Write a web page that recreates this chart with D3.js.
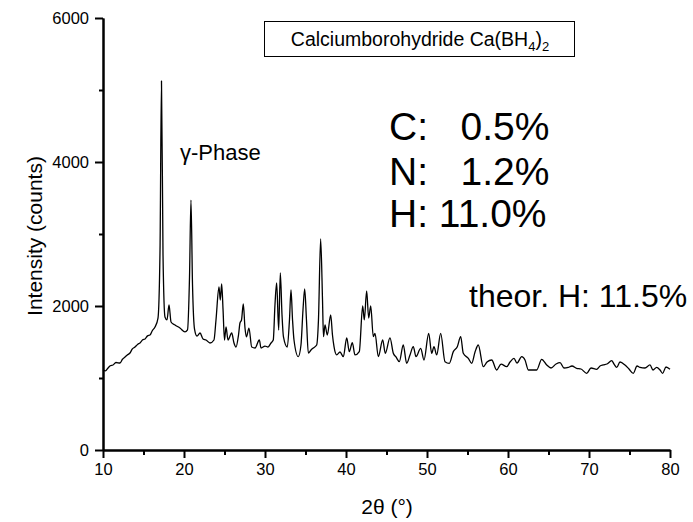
<!DOCTYPE html>
<html><head><meta charset="utf-8">
<script src="https://cdn.jsdelivr.net/npm/d3@7"></script>
<style>
body{margin:0;background:#fff;}
svg{display:block;font-family:Arial,"Liberation Sans",sans-serif;}
</style></head>
<body><svg id="c" width="693" height="522"></svg>
<script>
// 2θ positions (degrees)
const twoTheta = [10.0,10.3,10.62,10.9,11.23,11.6,12.1,12.4,12.72,13.0,13.33,13.6,13.95,14.3,14.57,14.9,15.19,15.5,15.8,16.1,16.42,16.79,17.04,17.22,17.41,17.65,17.9,18.15,18.4,18.89,19.5,20.12,20.43,20.68,20.86,21.05,21.3,21.6,21.98,22.35,22.72,23.21,23.7,23.95,24.32,24.48,24.65,24.82,25.0,25.19,25.43,25.89,26.17,26.42,26.73,26.91,27.1,27.32,27.53,27.71,28.02,28.36,28.77,29.3,29.51,30.0,30.37,30.74,31.02,31.23,31.44,31.69,31.89,32.1,32.28,32.75,33.02,33.21,33.4,33.58,34.11,34.44,34.69,34.9,35.12,35.35,35.68,35.96,36.38,36.6,36.87,37.1,37.22,37.41,37.69,38.11,38.33,38.52,38.85,39.26,39.67,40.09,40.41,40.78,41.11,41.64,42.06,42.26,42.55,42.8,43.05,43.37,43.58,43.99,44.53,44.85,45.43,45.84,46.17,46.58,47.07,47.49,47.9,48.31,48.64,49.22,49.63,50.21,50.58,50.86,51.2,51.69,52.22,52.75,53.25,53.74,54.16,54.48,55.1,55.52,55.93,56.33,56.95,57.41,57.99,58.6,59.14,59.84,60.25,60.74,61.11,61.69,62.1,62.51,62.96,63.54,64.16,64.78,65.31,65.93,66.42,66.91,67.44,67.9,68.48,69.01,69.72,70.25,70.95,71.36,71.77,72.22,72.8,73.09,73.42,73.83,74.44,74.94,75.47,75.93,76.3,76.91,77.53,77.9,78.35,78.77,79.09,79.5,80.0];
// intensity (counts)
const intensity = [1111,1100,1139,1170,1180,1215,1208,1260,1292,1320,1347,1400,1430,1470,1486,1530,1542,1585,1597,1660,1708,1833,2780,5125,2700,1847,1806,2014,1778,1736,1694,1640,1667,2400,3470,2300,1680,1583,1625,1542,1528,1486,1528,1806,2264,2083,2306,1950,1528,1708,1528,1625,1486,1430,1597,1764,1806,2028,1694,1570,1694,1430,1417,1528,1417,1444,1430,1486,1528,2014,2320,1667,2458,1875,1570,1430,1806,2222,1806,1528,1296,1458,1945,2236,1806,1347,1389,1417,1458,1806,2931,2083,1574,1736,1597,1875,1597,1435,1320,1361,1296,1556,1366,1491,1320,1366,2000,1806,2208,1833,2000,1574,1620,1296,1528,1343,1556,1343,1292,1227,1458,1204,1320,1435,1296,1412,1250,1620,1343,1435,1320,1620,1227,1204,1366,1435,1574,1343,1273,1204,1361,1458,1157,1222,1250,1111,1194,1157,1222,1273,1208,1296,1250,1111,1111,1111,1259,1181,1139,1194,1213,1139,1148,1167,1134,1125,1065,1139,1120,1167,1181,1194,1240,1194,1148,1222,1181,1125,1065,1167,1148,1139,1181,1111,1148,1111,1065,1153,1120];
const xTicks = [10,20,30,40,50,60,70,80];
const xMinor = [15,25,35,45,55,65,75];
const yTicks = [0,2000,4000,6000];
const yMinor = [1000,3000,5000];
const titleMain = "Calciumborohydride Ca(BH";
const phaseLabel = "γ-Phase";
const analysis = ["C:   0.5%","N:   1.2%","H: 11.0%"];
const theorLabel = "theor. H: 11.5%";

const svg = d3.select("#c");
const x = d3.scaleLinear().domain([10,80]).range([103,670]);
const y = d3.scaleLinear().domain([0,6000]).range([450,18]);

// axes
const xAxis = svg.append("g").attr("transform","translate(0,450)")
  .call(d3.axisBottom(x).tickValues(xTicks).tickSize(8).tickSizeOuter(0).tickPadding(5).tickFormat(d3.format("d")));
const xAxisMinor = svg.append("g").attr("transform","translate(0,450)")
  .call(d3.axisBottom(x).tickValues(xMinor).tickSize(5).tickSizeOuter(0).tickFormat(""));
const yAxis = svg.append("g").attr("transform","translate(103,0)")
  .call(d3.axisLeft(y).tickValues(yTicks).tickSize(8).tickSizeOuter(0).tickPadding(6).tickFormat(d3.format("d")));
const yAxisMinor = svg.append("g").attr("transform","translate(103,0)")
  .call(d3.axisLeft(y).tickValues(yMinor).tickSize(4).tickSizeOuter(0).tickFormat(""));
[xAxis,xAxisMinor,yAxis,yAxisMinor].forEach(g=>{
  g.select(".domain").attr("stroke","#000").attr("stroke-width",2);
  g.selectAll(".tick line").attr("stroke","#000").attr("stroke-width",2);
  g.selectAll(".tick text").attr("font-size",16.5).attr("fill","#000").attr("font-family","Arial,'Liberation Sans',sans-serif");
});

// data line
const pts = twoTheta.map((t,i)=>[t,intensity[i]]);
svg.append("path").datum(pts)
  .attr("fill","none").attr("stroke","#000").attr("stroke-width",1.3).attr("stroke-linejoin","round")
  .attr("d", d3.line().curve(d3.curveMonotoneX).x(d=>x(d[0])).y(d=>y(d[1])));

// axis titles
svg.append("text").attr("x",387).attr("y",514).attr("text-anchor","middle").attr("font-size",21)
  .text("2θ (°)");
svg.append("text").attr("transform","translate(42,236) rotate(-90)").attr("text-anchor","middle").attr("font-size",21)
  .text("Intensity (counts)");

// title box
svg.append("rect").attr("x",264.5).attr("y",21.5).attr("width",310).attr("height",35)
  .attr("fill","#fff").attr("stroke","#000").attr("stroke-width",1);
const tt = svg.append("text").attr("x",420).attr("y",46).attr("text-anchor","middle").attr("font-size",19.5);
tt.append("tspan").text(titleMain);
tt.append("tspan").attr("font-size",13).attr("dy",5).text("4");
tt.append("tspan").attr("font-size",19.5).attr("dy",-5).text(")");
tt.append("tspan").attr("font-size",13).attr("dy",5).text("2");

svg.append("text").attr("x",180).attr("y",160).attr("font-size",22).text(phaseLabel);

const anY = [140,185,227];
svg.selectAll("text.an").data(analysis).join("text").attr("class","an")
  .attr("x",389).attr("y",(d,i)=>anY[i]).attr("font-size",39)
  .style("white-space","pre").attr("xml:space","preserve").text(d=>d);

svg.append("text").attr("x",469).attr("y",307).attr("font-size",32).text(theorLabel);

// faint clipped label at bottom (only its top edge is visible, as in the source)
svg.append("text").attr("x",52).attr("y",532).attr("font-size",14).attr("fill","#aaa").text("14000");
</script></body></html>
